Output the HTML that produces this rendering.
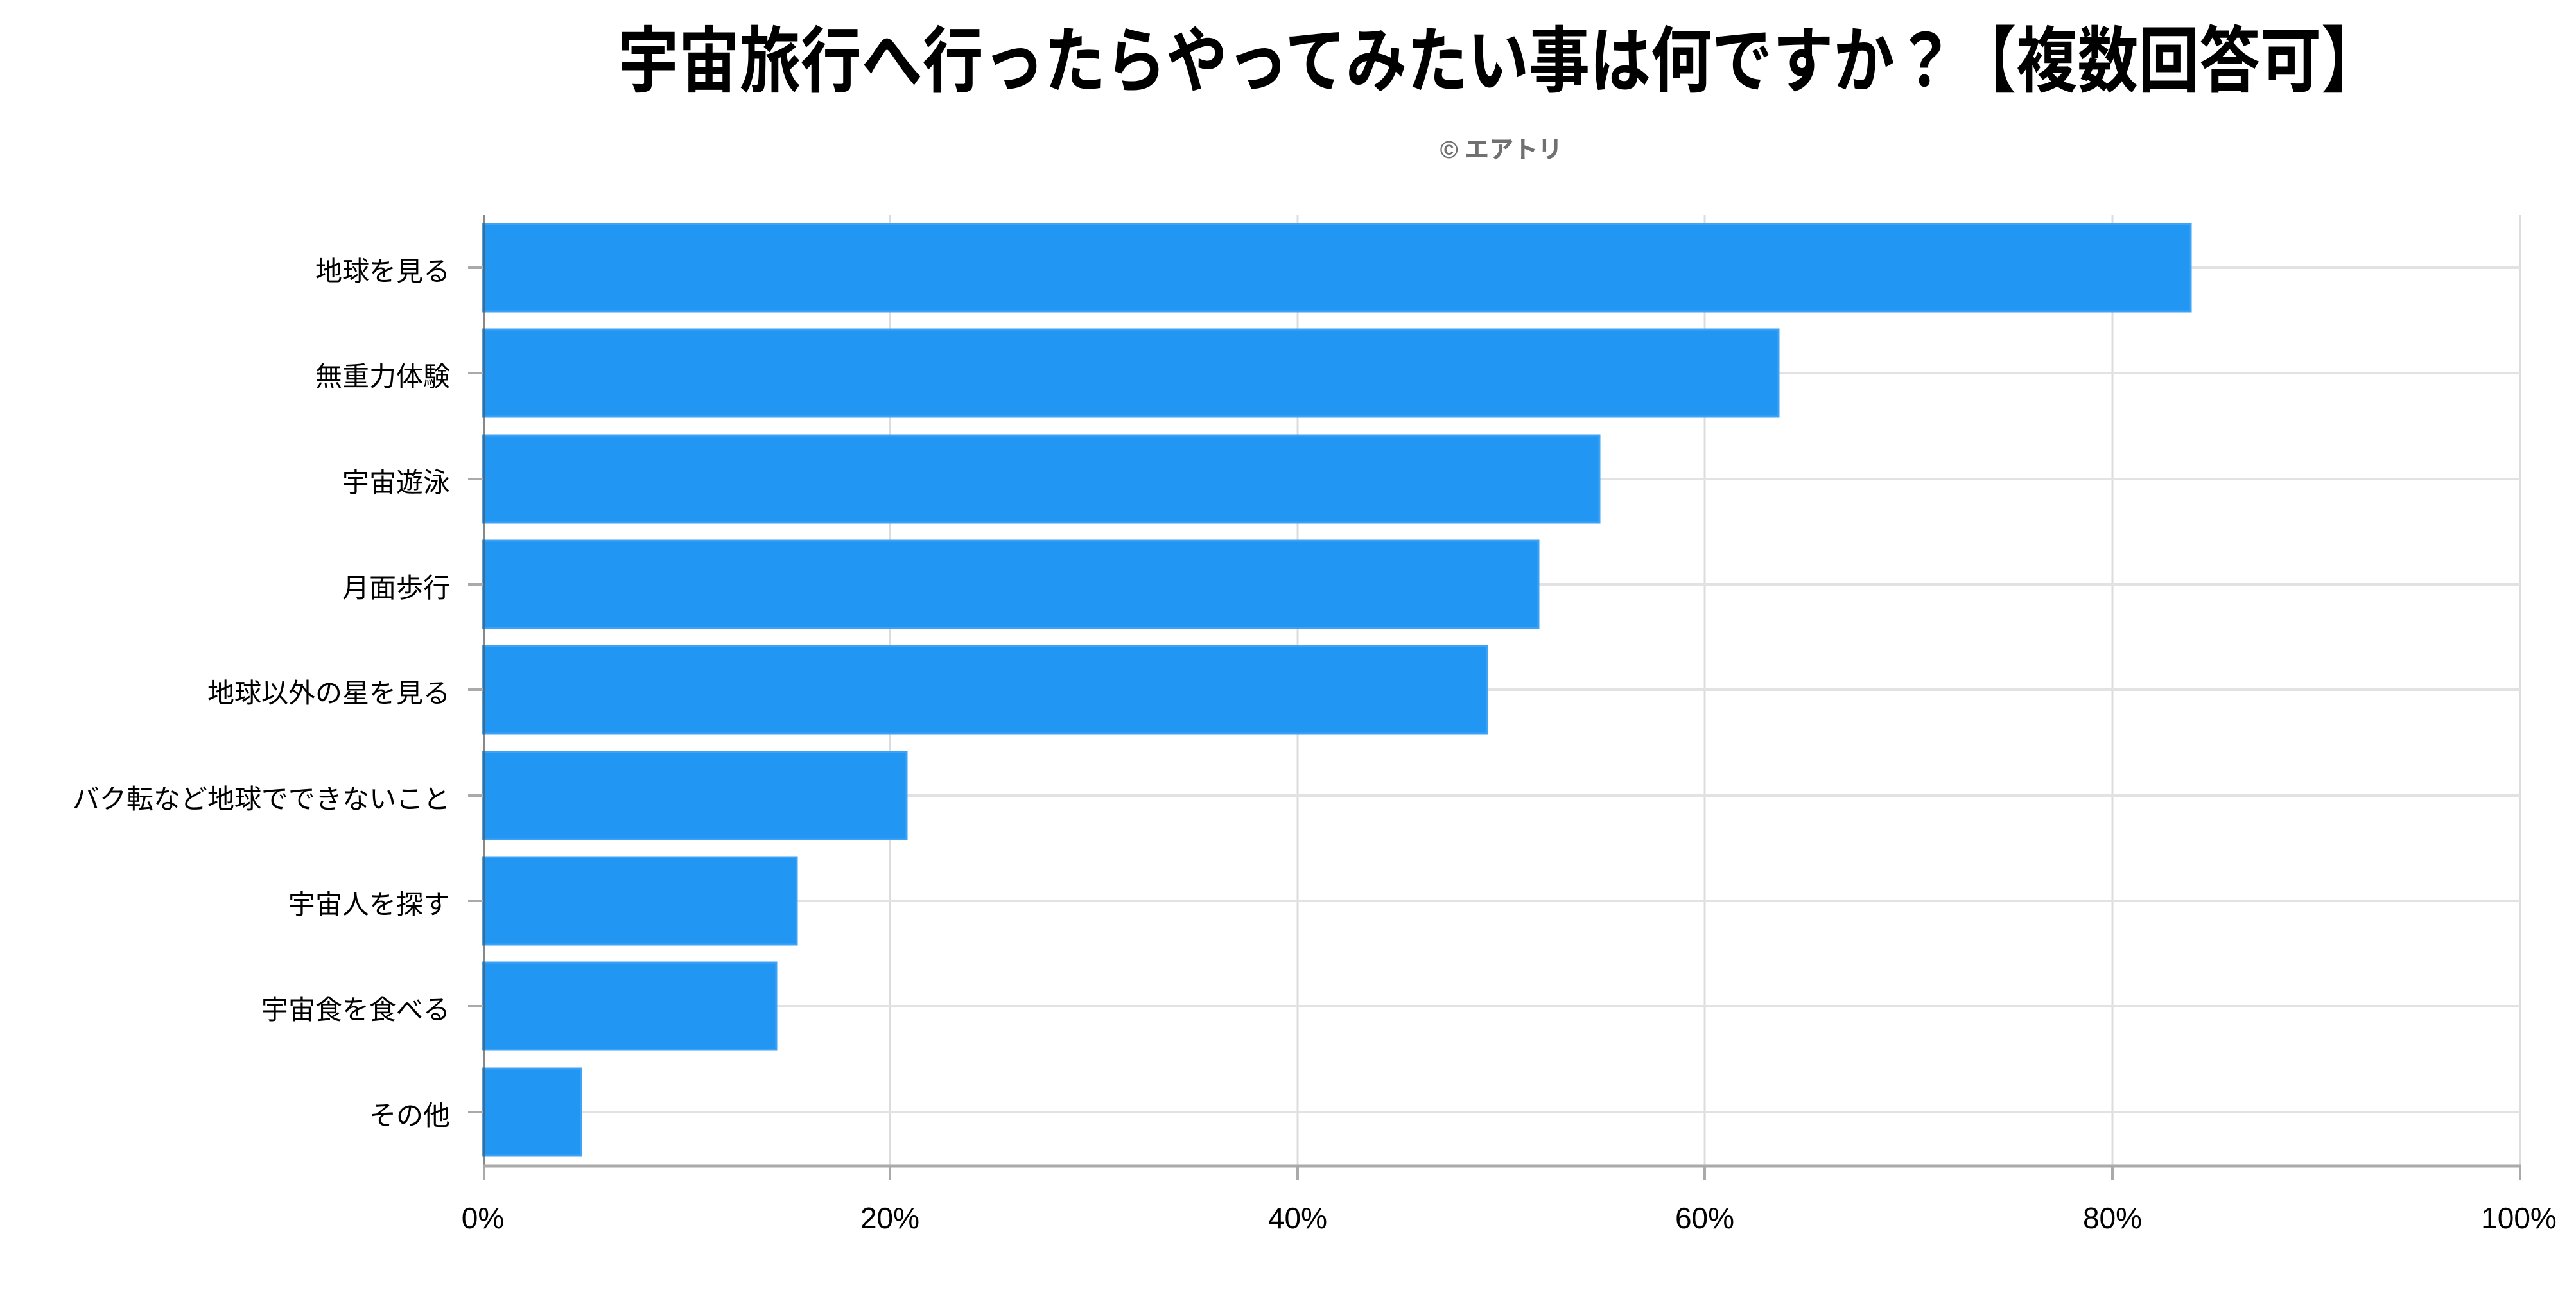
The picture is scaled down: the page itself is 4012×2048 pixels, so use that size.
<!DOCTYPE html>
<html><head><meta charset="utf-8"><style>
html,body{margin:0;padding:0;background:#fff;}
svg{display:block;}
</style></head><body>
<svg width="4012" height="2048" viewBox="0 0 4012 2048" xmlns="http://www.w3.org/2000/svg">
<rect width="4012" height="2048" fill="#fff"/>
<text x="2336" y="134" text-anchor="middle" font-family="'Liberation Sans','Noto Sans CJK JP',sans-serif" font-weight="bold" font-size="112" fill="#000" textLength="2748" lengthAdjust="spacingAndGlyphs">宇宙旅行へ行ったらやってみたい事は何ですか？【複数回答可】</text>
<text x="2338" y="246" text-anchor="middle" font-family="'Liberation Sans','Noto Sans CJK JP',sans-serif" font-weight="bold" font-size="38" fill="#707070">© エアトリ</text>
<g stroke="#dcdcdc" stroke-width="3">
<line x1="1386" y1="335" x2="1386" y2="1814"/>
<line x1="2021" y1="335" x2="2021" y2="1814"/>
<line x1="2655" y1="335" x2="2655" y2="1814"/>
<line x1="3290" y1="335" x2="3290" y2="1814"/>
<line x1="3925" y1="335" x2="3925" y2="1814"/>
</g>
<g stroke="#e2e2e2" stroke-width="4">
<line x1="752" y1="417" x2="3925" y2="417"/>
<line x1="752" y1="581" x2="3925" y2="581"/>
<line x1="752" y1="746" x2="3925" y2="746"/>
<line x1="752" y1="910" x2="3925" y2="910"/>
<line x1="752" y1="1074" x2="3925" y2="1074"/>
<line x1="752" y1="1239" x2="3925" y2="1239"/>
<line x1="752" y1="1403" x2="3925" y2="1403"/>
<line x1="752" y1="1567" x2="3925" y2="1567"/>
<line x1="752" y1="1732" x2="3925" y2="1732"/>
</g>
<g fill="#2196f3" stroke="#3ea3f5" stroke-width="3">
<rect x="752" y="349" width="2660" height="136"/>
<rect x="752" y="513" width="2018" height="136"/>
<rect x="752" y="678" width="1739" height="136"/>
<rect x="752" y="842" width="1644" height="136"/>
<rect x="752" y="1006" width="1564" height="136"/>
<rect x="752" y="1171" width="660" height="136"/>
<rect x="752" y="1335" width="489" height="136"/>
<rect x="752" y="1499" width="457" height="136"/>
<rect x="752" y="1664" width="153" height="136"/>
</g>
<line x1="754" y1="335" x2="754" y2="1816" stroke="#555" stroke-opacity="0.7" stroke-width="4"/>
<line x1="752" y1="1816" x2="3927" y2="1816" stroke="#aaa" stroke-width="5"/>
<g stroke="#aaa" stroke-width="4">
<line x1="729" y1="417" x2="752" y2="417"/><line x1="729" y1="581" x2="752" y2="581"/>
<line x1="729" y1="746" x2="752" y2="746"/><line x1="729" y1="910" x2="752" y2="910"/>
<line x1="729" y1="1074" x2="752" y2="1074"/><line x1="729" y1="1239" x2="752" y2="1239"/>
<line x1="729" y1="1403" x2="752" y2="1403"/><line x1="729" y1="1567" x2="752" y2="1567"/>
<line x1="729" y1="1732" x2="752" y2="1732"/>
<line x1="754" y1="1816" x2="754" y2="1837"/><line x1="1386" y1="1816" x2="1386" y2="1837"/>
<line x1="2021" y1="1816" x2="2021" y2="1837"/><line x1="2655" y1="1816" x2="2655" y2="1837"/>
<line x1="3290" y1="1816" x2="3290" y2="1837"/><line x1="3925" y1="1816" x2="3925" y2="1837"/>
</g>
<g font-family="'Liberation Sans','Noto Sans CJK JP',sans-serif" font-size="42" fill="#000" text-anchor="end">
<text x="701" y="437">地球を見る</text>
<text x="701" y="601">無重力体験</text>
<text x="701" y="766">宇宙遊泳</text>
<text x="701" y="930">月面歩行</text>
<text x="701" y="1094">地球以外の星を見る</text>
<text x="701" y="1259">バク転など地球でできないこと</text>
<text x="701" y="1423">宇宙人を探す</text>
<text x="701" y="1587">宇宙食を食べる</text>
<text x="701" y="1752">その他</text>
</g>
<g font-family="'Liberation Sans',sans-serif" font-size="46" fill="#000" text-anchor="middle">
<text x="752" y="1913">0%</text>
<text x="1386" y="1913">20%</text>
<text x="2021" y="1913">40%</text>
<text x="2655" y="1913">60%</text>
<text x="3290" y="1913">80%</text>
<text x="3923" y="1913">100%</text>
</g>
</svg>
</body></html>
